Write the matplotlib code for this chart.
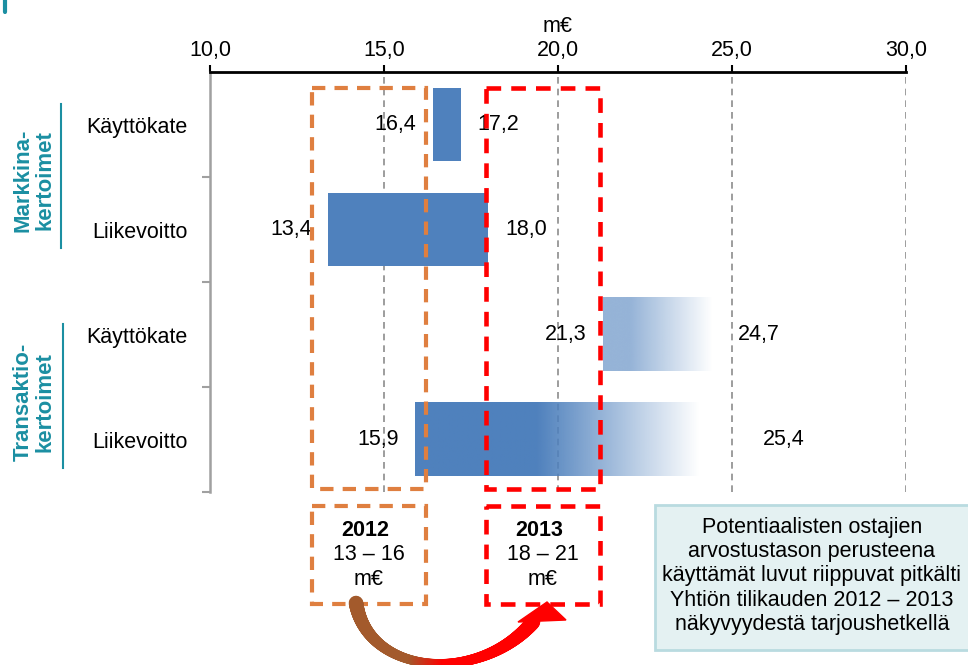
import numpy as np
import matplotlib
matplotlib.use("Agg")
import matplotlib.pyplot as plt
from matplotlib.patches import Rectangle, FancyBboxPatch, Polygon
from matplotlib.lines import Line2D
from matplotlib.collections import LineCollection
from matplotlib.colors import to_rgb

plt.rcParams['font.family'] = ['Liberation Sans', 'DejaVu Sans']

# data
categories = ["Käyttökate", "Liikevoitto", "Käyttökate", "Liikevoitto"]
low = [16.4, 13.4, 21.3, 15.9]
high = [17.2, 18.0, 24.7, 25.4]
faded = [False, False, True, True]
groups = ["Markkina-\nkertoimet", "Transaktio-\nkertoimet"]
years = ["2012", "2013"]
range_lo = [13, 18]
range_hi = [16, 21]
xticks = [10, 15, 20, 25, 30]
note = ("Potentiaalisten ostajien\narvostustason perusteena\nkäyttämät luvut riippuvat pitkälti\n"
        "Yhtiön tilikauden 2012 – 2013\nnäkyvyydestä tarjoushetkellä")

BLUE = "#4f81bd"; TEAL = "#1b8fa2"; ORANGE = "#df7f40"; RED = "#ff0000"; BROWN = "#a35a2c"
FS = 15.5
W, H = 968, 665
def fx(px): return px / W
def fy(py): return 1 - py / H

fig = plt.figure(figsize=(9.68, 6.65), dpi=100)
ax = fig.add_axes([fx(210), fy(492), 696 / W, 420 / H])
ax.set_xlim(10, 30); ax.set_ylim(4, 0)

ax.xaxis.tick_top(); ax.xaxis.set_label_position('top')
ax.set_xticks(xticks)
ax.set_xticklabels([f"{v:.1f}".replace(".", ",") for v in xticks])
ax.set_xlabel("m€", fontsize=FS, labelpad=6)
ax.tick_params(axis='x', direction='out', length=5, width=1.5, pad=3, labelsize=FS)
ax.xaxis.grid(True, ls=(0, (4, 3)), color="#8c8c8c", lw=1.2)
ax.set_axisbelow(True)

centers = np.arange(len(categories)) + 0.5
ax.set_yticks(centers); ax.set_yticklabels(categories)
ax.tick_params(axis='y', length=0, pad=16, labelsize=FS)
ax.set_yticks([1, 2, 3, 4], minor=True)
ax.tick_params(axis='y', which='minor', direction='out', length=6, width=1.5, color="#a0a0a0")
for s in ["right", "bottom"]: ax.spines[s].set_visible(False)
ax.spines["top"].set_linewidth(2)
ax.spines["left"].set_color("#a0a0a0"); ax.spines["left"].set_linewidth(1.8)

# bars
bh = 0.7
rgb = np.array(to_rgb(BLUE))
profiles = {2: (0.6, 0.23, 0.92), 3: (1.0, 0.37, 0.86)}
for i, (lo, hi) in enumerate(zip(low, high)):
    c = centers[i]
    if not faded[i]:
        ax.barh(c, hi - lo, left=lo, height=bh, color=BLUE, zorder=2)
    else:
        a0, f1, f2 = profiles[i]
        t = np.linspace(0, 1, 400)
        alpha = np.clip(a0 * (f2 - t) / (f2 - f1), 0, a0)
        alpha[t < f1] = a0
        img = np.zeros((1, t.size, 4)); img[..., :3] = rgb; img[..., 3] = alpha
        ax.imshow(img, extent=[lo, hi, c + bh / 2, c - bh / 2], aspect='auto',
                  interpolation='bilinear', zorder=2)
    ax.annotate(f"{lo:.1f}".replace(".", ","), (lo, c), xytext=(-12, 0), textcoords='offset points',
                ha='right', va='center', fontsize=FS, zorder=1)
    ax.annotate(f"{hi:.1f}".replace(".", ","), (hi, c), xytext=(12, 0), textcoords='offset points',
                ha='left', va='center', fontsize=FS, zorder=1)
ax.set_xlim(10, 30); ax.set_ylim(4, 0)

# year range boxes
for yr, lo, hi, col, lw in zip(years, range_lo, range_hi, [ORANGE, RED], [3, 3.3]):
    x0, x1 = lo - 0.06, hi + 0.2
    for y0, y1 in [(0.15, 3.97), (4.13, 5.07)]:
        ax.add_patch(Rectangle((x0, y0), x1 - x0, y1 - y0, fill=False, ec=col, lw=lw,
                               ls=(0, (3.2, 2.2)), clip_on=False, zorder=4))
    xm = (x0 + x1) / 2
    ax.text(xm - 0.12, 4.37, yr, ha='center', va='center', fontsize=FS, fontweight='bold', clip_on=False)
    ax.text(xm, 4.6, f"{lo} – {hi}", ha='center', va='center', fontsize=FS, clip_on=False)
    ax.text(xm, 4.83, "m€", ha='center', va='center', fontsize=FS, clip_on=False)

# group labels
for g, yc, (l0, l1), lx in zip(groups, [180, 402], [(104, 248), (324, 468)], [61, 63]):
    fig.text(fx(34), fy(yc), g, rotation=90, ha='center', va='center', multialignment='center',
             fontsize=16, fontweight='bold', color=TEAL, linespacing=1.0)
    fig.add_artist(Line2D([fx(lx), fx(lx)], [fy(l0), fy(l1)], color=TEAL, lw=1.5))

# cut title marker
fig.add_artist(Line2D([fx(5), fx(5)], [fy(0), fy(12)], color=TEAL, lw=3, solid_capstyle='round'))

# note box
fig.add_artist(FancyBboxPatch((fx(655), fy(650)), 330 / W, 145 / H, boxstyle="square,pad=0",
                              transform=fig.transFigure, fc="#e4f1f2", ec="#b9dbe0", lw=2))
fig.text(fx(812), fy(576), note, ha='center', va='center', multialignment='center',
         fontsize=FS, linespacing=1.2)

# curved arrow
P = np.array([[356, 603], [368, 676], [480, 684], [533, 622]], float)
t = np.linspace(0, 1, 300)[:, None]
pts = ((1 - t) ** 3) * P[0] + 3 * ((1 - t) ** 2) * t * P[1] + 3 * (1 - t) * t ** 2 * P[2] + t ** 3 * P[3]
xy = np.column_stack([fx(pts[:, 0]), fy(pts[:, 1])])
segs = np.stack([xy[:-1], xy[1:]], axis=1)
c0, c1 = np.array(to_rgb(BROWN)), np.array(to_rgb(RED))
s = np.linspace(0, 1, len(segs))[:, None]
mix = np.clip((s - 0.42) / 0.16, 0, 1)
cols = c0 * (1 - mix) + c1 * mix
widths = 10.5 - 4 * np.sin(np.pi * s[:, 0])
fig.add_artist(LineCollection(segs, colors=cols, linewidths=widths, transform=fig.transFigure,
                              capstyle='round', joinstyle='round'))
head = [[518, 622], [547, 602], [566, 620]]
fig.add_artist(Polygon([[fx(x), fy(y)] for x, y in head], closed=True, fc=RED, ec=RED,
                       transform=fig.transFigure))

fig.savefig("out.png", dpi=100)
